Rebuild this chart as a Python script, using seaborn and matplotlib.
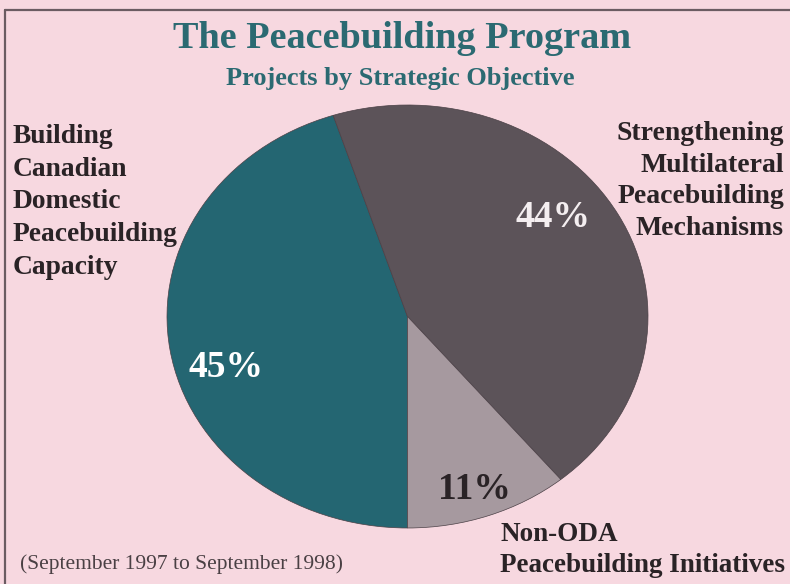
import matplotlib
matplotlib.use("Agg")
import matplotlib.pyplot as plt
import seaborn as sns
from matplotlib.lines import Line2D

# ---- data ----
categories = ["Building Canadian Domestic Peacebuilding Capacity",
              "Strengthening Multilateral Peacebuilding Mechanisms",
              "Non-ODA Peacebuilding Initiatives"]
shares = [45, 44, 11]
pct_labels = ["45%", "44%", "11%"]
title = "The Peacebuilding Program"
subtitle = "Projects by Strategic Objective"
footnote = "(September 1997 to September 1998)"

# ---- style ----
sns.set_style("white")
plt.rcParams["font.family"] = ["Liberation Serif", "DejaVu Serif"]
bg = "#f7d8e0"
slice_colors = sns.color_palette(["#246672", "#5c5359", "#a6999f"])
teal_text = "#2b6a72"
dark_text = "#2a2326"

fig = plt.figure(figsize=(7.9, 5.84), dpi=100)
fig.patch.set_facecolor(bg)

ax = fig.add_axes([167/790, 1-528/584, 481/790, 423/584])
ax.set_facecolor(bg)
wedges, _ = ax.pie(shares, colors=slice_colors, startangle=270, counterclock=False,
                   radius=1.0, wedgeprops=dict(linewidth=0.5, edgecolor="#4a4046"))
ax.set_aspect("auto")
ax.set_xlim(-1, 1)
ax.set_ylim(-1, 1)
ax.axis("off")

# percentage labels (placed in data coords of the pie)
ax.text(-0.755, -0.24, pct_labels[0], color="white", fontsize=27, fontweight="bold",
        ha="center", va="center")
ax.text(0.605, 0.47, pct_labels[1], color="#f4eef0", fontsize=27, fontweight="bold",
        ha="center", va="center")
ax.text(0.28, -0.82, pct_labels[2], color=dark_text, fontsize=27, fontweight="bold",
        ha="center", va="center")

# titles
fig.text(402/790, 1-39/584, title, color=teal_text, fontsize=27.5, fontweight="bold",
         ha="center", va="center")
fig.text(400/790, 1-78/584, subtitle, color=teal_text, fontsize=19, fontweight="bold",
         ha="center", va="center")

# category labels
fig.text(13/790, 1-202/584, "Building\nCanadian\nDomestic\nPeacebuilding\nCapacity",
         color=dark_text, fontsize=19.8, fontweight="bold", ha="left", va="center",
         linespacing=1.42)
fig.text(784/790, 1-181/584, "Strengthening\nMultilateral\nPeacebuilding\nMechanisms",
         color=dark_text, fontsize=20, fontweight="bold", ha="right", va="center",
         multialignment="right", linespacing=1.34)
fig.text(500/790, 1-550/584, "Non-ODA\nPeacebuilding Initiatives",
         color=dark_text, fontsize=19.5, fontweight="bold", ha="left", va="center",
         linespacing=1.31)
fig.text(20/790, 1-564/584, footnote, color="#4a4044", fontsize=15.5,
         ha="left", va="center")

# frame lines (top and left)
fig.add_artist(Line2D([5/790, 1.0], [1-10/584, 1-10/584], transform=fig.transFigure,
                      color="#6b5c62", linewidth=1.6))
fig.add_artist(Line2D([5/790, 5/790], [1-10/584, 0.0], transform=fig.transFigure,
                      color="#6b5c62", linewidth=1.6))

fig.savefig("out.png", dpi=100, facecolor=bg)
